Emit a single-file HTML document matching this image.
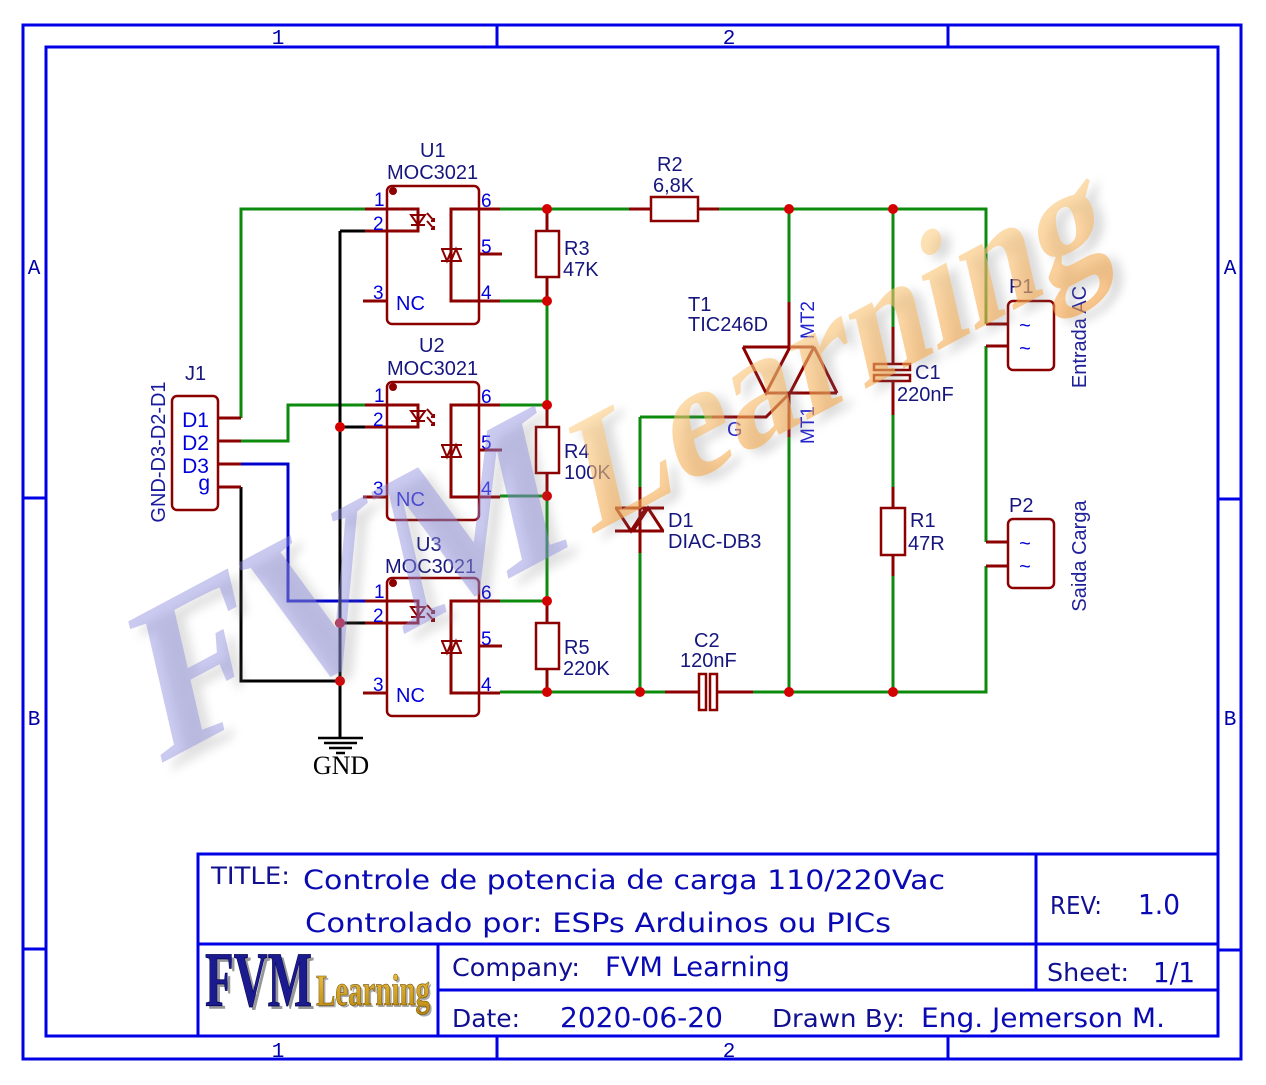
<!DOCTYPE html>
<html><head><meta charset="utf-8">
<style>
html,body{margin:0;padding:0;background:#fff;width:1266px;height:1085px;overflow:hidden}
svg{display:block}
.w{stroke:#0c8a0c;stroke-width:3;fill:none}
.r{stroke:#8c0000;stroke-width:3;fill:none}
.o{stroke:#8c0000;stroke-width:2.5;fill:none}
.t{stroke:#8c0000;stroke-width:2;fill:none}
.k{stroke:#000;stroke-width:3;fill:none}
.bl{stroke:#0000cc;stroke-width:3;fill:none}
.fr{stroke:#0000e6;stroke-width:3;fill:none}
.n{font-family:"Liberation Sans",Arial,sans-serif;font-size:20px;fill:#16167e}
.p{font-family:"Liberation Sans",Arial,sans-serif;font-size:19px;fill:#0000dd}
.fl{font-family:"Liberation Mono",monospace;font-size:21px;fill:#0000aa}
.tl{font-family:"DejaVu Sans",Verdana,sans-serif;fill:#101090}
.tv{font-family:"DejaVu Sans",Verdana,sans-serif;fill:#0a0ab4}
</style></head>
<body>
<svg width="1266" height="1085" viewBox="0 0 1266 1085" xmlns="http://www.w3.org/2000/svg">
<defs>
<linearGradient id="gold" x1="0" y1="0" x2="0" y2="1">
<stop offset="0" stop-color="#ffdc98"/><stop offset="1" stop-color="#f5a040"/>
</linearGradient>
<linearGradient id="lg" x1="0" y1="0" x2="0" y2="1">
<stop offset="0" stop-color="#f2c64a"/><stop offset="1" stop-color="#b8860b"/>
</linearGradient>
<filter id="blur" x="-20%" y="-20%" width="140%" height="140%"><feGaussianBlur stdDeviation="5"/></filter>
</defs>
<rect width="1266" height="1085" fill="#fff"/>

<!-- Frame -->
<rect class="fr" x="23" y="25" width="1218" height="1034"/>
<rect class="fr" x="46" y="47" width="1172" height="989"/>
<path class="fr" d="M497 25V47M948 25V47M497 1036V1059M948 1036V1059M23 498H46M23 949H46M1218 499H1241M1218 950H1241"/>
<text class="fl" x="278" y="44" text-anchor="middle">1</text>
<text class="fl" x="729" y="44" text-anchor="middle">2</text>
<text class="fl" x="278" y="1057" text-anchor="middle">1</text>
<text class="fl" x="729" y="1057" text-anchor="middle">2</text>
<text class="fl" x="34" y="274" text-anchor="middle">A</text>
<text class="fl" x="34" y="725" text-anchor="middle">B</text>
<text class="fl" x="1230" y="274" text-anchor="middle">A</text>
<text class="fl" x="1230" y="725" text-anchor="middle">B</text>

<!-- Title block -->
<rect class="fr" x="198" y="854" width="1020" height="182"/>
<path class="fr" d="M198 944H1218M1036 854V990M438 990H1218M438 944V1036"/>
<text class="tl" x="211" y="884" font-size="24" textLength="79" lengthAdjust="spacingAndGlyphs">TITLE:</text>
<text class="tv" x="303" y="889" font-size="27" textLength="642" lengthAdjust="spacingAndGlyphs">Controle de potencia de carga 110/220Vac</text>
<text class="tv" x="305" y="932" font-size="27" textLength="586" lengthAdjust="spacingAndGlyphs">Controlado por: ESPs Arduinos ou PICs</text>
<text class="tl" x="1050" y="914" font-size="25" textLength="52" lengthAdjust="spacingAndGlyphs">REV:</text>
<text class="tv" x="1138" y="914" font-size="28" textLength="42" lengthAdjust="spacingAndGlyphs">1.0</text>
<text class="tl" x="1047" y="981" font-size="25" textLength="82" lengthAdjust="spacingAndGlyphs">Sheet:</text>
<text class="tv" x="1153" y="982" font-size="28" textLength="42" lengthAdjust="spacingAndGlyphs">1/1</text>
<text class="tl" x="452" y="976" font-size="25" textLength="128" lengthAdjust="spacingAndGlyphs">Company:</text>
<text class="tv" x="605" y="976" font-size="27" textLength="185" lengthAdjust="spacingAndGlyphs">FVM Learning</text>
<text class="tl" x="452" y="1027" font-size="25" textLength="68" lengthAdjust="spacingAndGlyphs">Date:</text>
<text class="tv" x="560" y="1027" font-size="28" textLength="163" lengthAdjust="spacingAndGlyphs">2020-06-20</text>
<text class="tl" x="772" y="1027" font-size="25" textLength="133" lengthAdjust="spacingAndGlyphs">Drawn By:</text>
<text class="tv" x="921" y="1027" font-size="27" textLength="244" lengthAdjust="spacingAndGlyphs">Eng. Jemerson M.</text>
<!-- Logo -->
<text x="208" y="1009" font-family="Liberation Serif,serif" font-weight="bold" font-size="78" fill="#555" opacity="0.6" textLength="107" lengthAdjust="spacingAndGlyphs">FVM</text>
<text x="205" y="1006" font-family="Liberation Serif,serif" font-weight="bold" font-size="78" fill="#1b1b8f" stroke="#000050" stroke-width="0.8" textLength="107" lengthAdjust="spacingAndGlyphs">FVM</text>
<text x="318" y="1007" font-family="Liberation Serif,serif" font-weight="bold" font-size="44" fill="#555" opacity="0.5" textLength="114" lengthAdjust="spacingAndGlyphs">Learning</text>
<text x="316" y="1005" font-family="Liberation Serif,serif" font-weight="bold" font-size="44" fill="url(#lg)" stroke="#6b4a00" stroke-width="0.6" textLength="114" lengthAdjust="spacingAndGlyphs">Learning</text>

<!-- ===== Schematic ===== -->
<path class="w" d="M241 418V209H365M241 441H288V405H365M500 209H629M719 209H986V324M986 346V542M986 566V692H753M665 692H500M547 301V405M547 496V601M500 301H547M500 405H547M500 496H547M500 601H547M789 209V302M789 437V692M893 209V327M893 415V487M893 576V692M640 417V487M640 553V692M640 417H712"/>
<path class="bl" d="M241 464H288V601H365"/>
<path class="k" d="M340 231V737M340 231H365M340 427H365M340 623H365M241 487V681H340"/>
<path d="M318 738H363M324 743H357M329 748H352M336 753H345" stroke="#000" stroke-width="2.5" fill="none"/>
<text x="341" y="774" text-anchor="middle" font-family="Liberation Serif,serif" font-size="26" fill="#000">GND</text>

<!-- J1 -->
<rect class="o" x="172" y="396" width="46" height="114" rx="5"/>
<path class="r" d="M218 418H241M218 441H241M218 464H241M218 487H241"/>
<text class="n" x="185" y="380">J1</text>
<text class="p" style="font-size:21px" x="209" y="427" text-anchor="end">D1</text>
<text class="p" style="font-size:21px" x="209" y="450" text-anchor="end">D2</text>
<text class="p" style="font-size:21px" x="209" y="473" text-anchor="end">D3</text>
<text class="p" style="font-size:21px" x="210" y="490" text-anchor="end">g</text>
<text class="n" transform="translate(165,452) rotate(-90)" text-anchor="middle" style="fill:#1a1aa0">GND-D3-D2-D1</text>

<!-- U blocks -->
<g>
<rect class="o" x="387" y="186" width="92" height="138" rx="5"/>
<circle cx="393" cy="191" r="4" fill="#8c0000"/>
<path class="r" d="M365 209H418V231H365M363 301H387M500 209H451V301H500M479 254H502"/>
<path class="t" d="M411 215H425L418 225ZM411 225H425"/>
<path class="t" d="M427 213L434 221M427 221L434 229M431 221L434 221L434 218M431 229L434 229L434 226"/>
<path class="t" d="M441 249H462M441 261H462M442 249L447 261L452 249M451 261L456 249L461 261"/>
<text class="p" x="374" y="206">1</text>
<text class="p" x="373" y="230">2</text>
<text class="p" x="373" y="299">3</text>
<text class="p" style="font-size:20px" x="396" y="310">NC</text>
<text class="p" x="481" y="207">6</text>
<text class="p" x="481" y="253">5</text>
<text class="p" x="481" y="299">4</text>
</g>
<g transform="translate(0,196)">
<rect class="o" x="387" y="186" width="92" height="138" rx="5"/>
<circle cx="393" cy="191" r="4" fill="#8c0000"/>
<path class="r" d="M365 209H418V231H365M363 301H387M500 209H451V301H500M479 254H502"/>
<path class="t" d="M411 215H425L418 225ZM411 225H425"/>
<path class="t" d="M427 213L434 221M427 221L434 229M431 221L434 221L434 218M431 229L434 229L434 226"/>
<path class="t" d="M441 249H462M441 261H462M442 249L447 261L452 249M451 261L456 249L461 261"/>
<text class="p" x="374" y="206">1</text>
<text class="p" x="373" y="230">2</text>
<text class="p" x="373" y="299">3</text>
<text class="p" style="font-size:20px" x="396" y="310">NC</text>
<text class="p" x="481" y="207">6</text>
<text class="p" x="481" y="253">5</text>
<text class="p" x="481" y="299">4</text>
</g>
<g transform="translate(0,392)">
<rect class="o" x="387" y="186" width="92" height="138" rx="5"/>
<circle cx="393" cy="191" r="4" fill="#8c0000"/>
<path class="r" d="M365 209H418V231H365M363 301H387M500 209H451V301H500M479 254H502"/>
<path class="t" d="M411 215H425L418 225ZM411 225H425"/>
<path class="t" d="M427 213L434 221M427 221L434 229M431 221L434 221L434 218M431 229L434 229L434 226"/>
<path class="t" d="M441 249H462M441 261H462M442 249L447 261L452 249M451 261L456 249L461 261"/>
<text class="p" x="374" y="206">1</text>
<text class="p" x="373" y="230">2</text>
<text class="p" x="373" y="299">3</text>
<text class="p" style="font-size:20px" x="396" y="310">NC</text>
<text class="p" x="481" y="207">6</text>
<text class="p" x="481" y="253">5</text>
<text class="p" x="481" y="299">4</text>
</g>
<text class="n" x="420" y="157">U1</text>
<text class="n" x="387" y="179">MOC3021</text>
<text class="n" x="419" y="352">U2</text>
<text class="n" x="387" y="375">MOC3021</text>
<text class="n" x="416" y="551">U3</text>
<text class="n" x="385" y="573">MOC3021</text>

<!-- R3 R4 R5 -->
<path class="r" d="M547 209V231M547 277V301M547 405V427M547 473V496M547 601V623M547 669V692"/>
<rect class="o" x="536" y="231" width="23" height="46"/>
<rect class="o" x="536" y="427" width="23" height="46"/>
<rect class="o" x="536" y="623" width="23" height="46"/>
<text class="n" x="564" y="255">R3</text>
<text class="n" x="563" y="276">47K</text>
<text class="n" x="564" y="458">R4</text>
<text class="n" x="564" y="479">100K</text>
<text class="n" x="564" y="654">R5</text>
<text class="n" x="563" y="675">220K</text>

<!-- R2 -->
<path class="r" d="M629 209H651M698 209H719"/>
<rect class="o" x="651" y="197" width="47" height="24"/>
<text class="n" x="657" y="171">R2</text>
<text class="n" x="653" y="192">6,8K</text>

<!-- T1 triac -->
<path class="r" d="M789 302V347M789 393V437M712 417H766L790 393"/>
<path class="r" d="M743 347H814M766 393H837M743 347L766 393L790 347M814 347L790 393M814 347L837 393"/>
<text class="n" x="688" y="311">T1</text>
<text class="n" x="688" y="331">TIC246D</text>
<text class="p" transform="translate(814,320) rotate(-90)" text-anchor="middle" style="fill:#2222cc">MT2</text>
<text class="p" transform="translate(814,425) rotate(-90)" text-anchor="middle" style="fill:#2222cc">MT1</text>
<text class="p" style="font-size:20px;fill:#2222cc" x="727" y="436">G</text>

<!-- D1 diac -->
<path class="r" d="M640 487V553M615 508H664M615 531H664M616 508L631 531L646 508M633 531L648 508L663 531"/>
<text class="n" x="668" y="527">D1</text>
<text class="n" x="668" y="548">DIAC-DB3</text>

<!-- C2 -->
<path class="r" d="M665 692H699M717 692H753"/>
<rect class="o" x="699" y="674" width="7" height="36"/>
<rect class="o" x="710" y="674" width="7" height="36"/>
<text class="n" x="694" y="647">C2</text>
<text class="n" x="680" y="667">120nF</text>

<!-- C1 -->
<path class="r" d="M893 327V364M893 381V415"/>
<rect class="o" x="874" y="364" width="36" height="6"/>
<rect class="o" x="874" y="375" width="36" height="6"/>
<text class="n" x="915" y="379">C1</text>
<text class="n" x="897" y="401">220nF</text>

<!-- R1 -->
<path class="r" d="M893 487V508M893 555V576"/>
<rect class="o" x="881" y="508" width="24" height="47"/>
<text class="n" x="910" y="527">R1</text>
<text class="n" x="908" y="550">47R</text>

<!-- P1 P2 -->
<rect class="o" x="1008" y="301" width="46" height="69" rx="5"/>
<rect class="o" x="1008" y="519" width="46" height="69" rx="5"/>
<path class="r" d="M986 324H1008M986 346H1008M986 542H1008M986 566H1008"/>
<text class="p" style="font-size:20px" x="1025" y="332" text-anchor="middle">~</text>
<text class="p" style="font-size:20px" x="1025" y="355" text-anchor="middle">~</text>
<text class="p" style="font-size:20px" x="1025" y="550" text-anchor="middle">~</text>
<text class="p" style="font-size:20px" x="1025" y="573" text-anchor="middle">~</text>
<text class="n" x="1009" y="293">P1</text>
<text class="n" x="1009" y="512">P2</text>
<text class="n" transform="translate(1086,337) rotate(-90)" text-anchor="middle" style="fill:#20209a">Entrada AC</text>
<text class="n" transform="translate(1086,556) rotate(-90)" text-anchor="middle" style="fill:#20209a">Saida Carga</text>

<!-- junctions -->
<g fill="#d40000">
<circle cx="547" cy="209" r="5"/><circle cx="547" cy="301" r="5"/><circle cx="547" cy="405" r="5"/>
<circle cx="547" cy="496" r="5"/><circle cx="547" cy="601" r="5"/><circle cx="547" cy="692" r="5"/>
<circle cx="789" cy="209" r="5"/><circle cx="893" cy="209" r="5"/>
<circle cx="640" cy="692" r="5"/><circle cx="789" cy="692" r="5"/><circle cx="893" cy="692" r="5"/>
<circle cx="340" cy="427" r="5"/><circle cx="340" cy="623" r="5"/><circle cx="340" cy="681" r="5"/>
</g>

<!-- Watermark -->
<g transform="translate(158,765) rotate(-28) skewX(-15)" font-family="Liberation Serif,serif" font-weight="bold">
<text x="9" y="11" font-size="215" fill="#777" opacity="0.22" filter="url(#blur)" textLength="470" lengthAdjust="spacingAndGlyphs">FVM</text>
<text x="0" y="0" font-size="215" fill="#8c8ce0" opacity="0.45" textLength="470" lengthAdjust="spacingAndGlyphs">FVM</text>
<text x="499" y="9" font-size="160" fill="#777" opacity="0.25" filter="url(#blur)" textLength="590" lengthAdjust="spacingAndGlyphs">Learning</text>
<text x="490" y="0" font-size="160" fill="url(#gold)" opacity="0.6" textLength="590" lengthAdjust="spacingAndGlyphs">Learning</text>
</g>
</svg>
</body></html>
